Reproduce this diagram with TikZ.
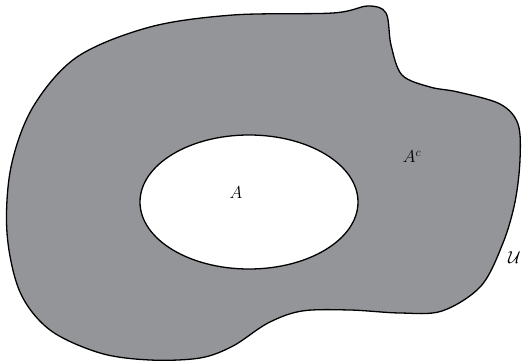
\documentclass[tikz,border=0pt]{standalone}
\usepackage{amsmath}
\definecolor{setgray}{RGB}{147,149,153}
\begin{document}
\begin{tikzpicture}[x=1pt, y=-1pt, font=\fontsize{17}{20}\selectfont]

% --- Рамка рисунка ---
\useasboundingbox (0,0) rectangle (523,361);

% --- Параметры эллипса A ---
\def\cx{249}   % центр x
\def\cy{202}   % центр y
\def\rx{109}
\def\ry{67}

% --- Универсальное множество U: гладкая замкнутая кривая ---
\fill[setgray, draw=black, line width=1.3pt]
  plot[smooth cycle, tension=0.55] coordinates {
    (333,13) (368,6) (386,13) (391,45) (402,75) (430,87) (458,92)
    (500,104) (518,124) (520,160) (515,202) (503,243) (481,286)
    (442,311) (400,313) (350,310) (302,311) (268,323) (233,346)
    (200,358) (150,360) (100,353) (50,330) (20,292) (7,233)
    (11,167) (33,107) (77,57) (150,27) (233,15)};

% --- Множество A ---
\fill[white, draw=black, line width=1.3pt] (\cx,\cy) ellipse ({\rx} and {\ry});

% --- Подписи ---
\node (A)  at (236,193) {$A$};
\node (Ac) at (412,157) {$A^c$};
\node[anchor=west, inner sep=0pt] (U) at (508,258) {$\mathcal{U}$};

\end{tikzpicture}
\end{document}
